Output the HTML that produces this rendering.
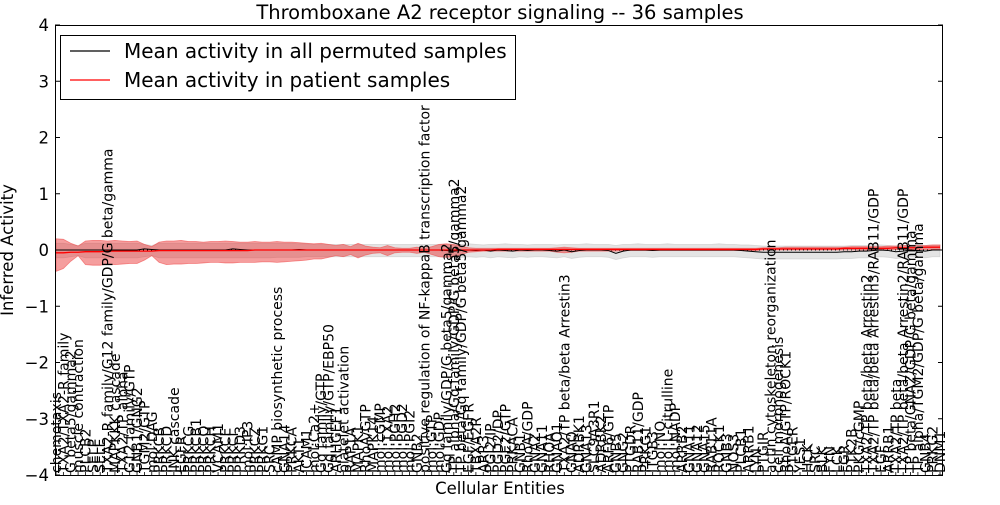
<!DOCTYPE html>
<html><head><meta charset="utf-8"><style>
html,body{margin:0;padding:0;background:#fff;}
svg text{font-family:"DejaVu Sans","Liberation Sans",sans-serif;}
</style></head><body>
<svg id="chart" width="1000" height="500" xmlns="http://www.w3.org/2000/svg">
<rect x="0" y="0" width="1000" height="500" fill="#fff"/>
<g id="plot"></g>
<text x="500" y="19" text-anchor="middle" font-size="19.5">Thromboxane A2 receptor signaling -- 36 samples</text>
<text x="500" y="494" text-anchor="middle" font-size="16.5">Cellular Entities</text>
<text transform="translate(13,250) rotate(-90)" text-anchor="middle" font-size="16.5">Inferred Activity</text>
<g>
<rect x="60.5" y="35.5" width="455" height="64" fill="#fff" stroke="#000" stroke-width="1"/>
<line x1="70" y1="51" x2="110" y2="51" stroke="#000" stroke-width="1.2"/>
<text x="124" y="58" font-size="20">Mean activity in all permuted samples</text>
<line x1="70" y1="80" x2="110" y2="80" stroke="#f00" stroke-width="1.2"/>
<text x="124" y="87" font-size="20">Mean activity in patient samples</text>
</g>
</svg>
<script>
const labels = ["chemotaxis","TXA2/TXA2-R family","G beta5/gamma2","muscle contraction","PLCB2","SELP","SELE","TXA2-R family/G12 family/GDP/G beta/gamma","MAPKKK cascade","TXA2/TP alpha","G12 family/GTP",
"GNB1/GNG2","TGM2/GTP","mol:DAG","PRKCB","PRKCD","JNK cascade","EGFR","PRKCG","PRKCB1","PRKCQ","PRKCH",
"VCAM1","PRKCE","PRKCI","PRKD3","mol:IP3","PRKCZ","PRKG1","SRC","cAMP biosynthetic process","GNA14","PRKCA",
"AKT1","ICAM1","mol:Ca2+","Gq family/GTP","Gq family/GTP/EBP50","ARHGEF1","platelet activation","RAP1A","MAPK1","RhoA/GTP","MAPK14",
"mol:cGMP","mol:TXA2","mol:PGH2","mol:PGD2","mol:PGI2","GNB2","positive regulation of NF-kappaB transcription factor activity","mol:GTP","mol:GDP","Gq family/GDP/G beta5/gamma2","TP alpha/Gq family/GDP/G beta5/gamma2",
"TP beta/Gq family/GDP/G beta5/gamma2","EGF/EGFR","TBXA2R","ARR3","PGI2/IP","PGD2/DP","PGE2/GTP","PRKACA","GNB1","RhoA/GDP","GNAZ",
"GNA11","RHOA","GNAO1","TXA2/TP beta/beta Arrestin3","GNAQ","ADRBK1","GNA13","SLC9A3R1","ADRBK2","ARF6/GTP","GNB5",
"GNG2","PTGDR","RAB11/GDP","PRKG1","ITGB3","mol:NO","mol:L-citrulline","mol:NADP","ARRB2","GNA11","GNA12",
"GNA15","RAB11A","ROCK1","GNB3","NOS3","PLCB1","ARRB1","LYN","PTGIR","actin cytoskeleton reorganization","cell morphogenesis",
"RhoA/GTP/ROCK1","PTGER","YES1","HCK","SRC","BLK","FYN","LCK","FGR","PTK2B","PKG/cGMP",
"TXA2/TP beta/beta Arrestin2","TXA2/TP beta/beta Arrestin3/RAB11/GDP","EGF","ARRB1","TXA2/TP beta","TXA2/TP beta/beta Arrestin2/RAB11/GDP","TP beta/GNAZ/GDP/G beta/gamma","TP alpha/TGM2/GDP/G beta/gamma","GNB4","PRKG2","DNM1"];
const yTicks = [-4,-3,-2,-1,0,1,2,3,4];
const permMean = [0,0,0,0,0,0,0,0,0,0,0, 0,.02,.01,0,0,0,0,0,0,0,0, 0,0,.02,.01,0,0,0,0,0,0,0, .01,0,0,0,0,0,0,0,0,0,0,
0,0,0,0,0,0,0,0,0,-.01,-.02, -.01,0,-.01,0,-.02,0,-.01,-.02,0,-.01,0, 0,-.01,-.02,0,-.03,-.01,0,0,0,-.01,-.06,
-.02,0,0,0,-.01,0,0,0,0,0,0, 0,0,0,0,0,-.01,-.02,-.03,-.04,-.04,-.04, -.04,-.04,-.04,-.04,-.04,-.04,-.04,-.04,-.03,-.03,-.02, -.02,-.01,0,-.01,-.03,-.02,0,-.01,-.02,0,0];
const permHi = [.12,.12,.1,.08,.12,.12,.12,.12,.12,.12,.12, .12,.1,.08,.12,.12,.12,.12,.12,.12,.12,.12, .12,.12,.12,.12,.12,.12,.12,.12,.12,.12,.12, .11,.11,.1,.1,.1,.1,.1,.1,.1,.1,.1,
.1,.1,.1,.1,.1,.1,.1,.1,.1,.1,.09, .1,.11,.1,.09,.1,.1,.11,.1,.1,.09,.1, .1,.1,.09,.1,.1,.1,.11,.1,.1,.1,.08,
.1,.1,.11,.1,.1,.1,.11,.1,.1,.1,.1, .1,.1,.11,.1,.1,.09,.09,.08,.07,.07,.07, .07,.07,.07,.07,.07,.07,.07,.07,.07,.08,.08, .08,.09,.09,.08,.07,.08,.09,.09,.08,.09,.09];
const permLo = [-.14,-.14,-.12,-.1,-.14,-.14,-.14,-.14,-.14,-.14,-.14, -.14,-.12,-.1,-.14,-.14,-.14,-.14,-.14,-.14,-.14,-.14, -.14,-.14,-.14,-.14,-.14,-.14,-.14,-.14,-.13,-.13,-.13, -.13,-.12,-.12,-.12,-.12,-.12,-.12,-.12,-.12,-.12,-.12,
-.12,-.12,-.12,-.12,-.12,-.12,-.12,-.12,-.12,-.13,-.14, -.13,-.12,-.13,-.12,-.14,-.12,-.13,-.14,-.12,-.13,-.12, -.12,-.13,-.14,-.12,-.15,-.13,-.12,-.12,-.12,-.13,-.17,
-.14,-.12,-.12,-.12,-.13,-.12,-.12,-.12,-.12,-.12,-.12, -.12,-.12,-.12,-.12,-.12,-.13,-.14,-.15,-.16,-.16,-.16, -.16,-.16,-.16,-.16,-.16,-.16,-.16,-.16,-.15,-.15,-.14, -.14,-.13,-.12,-.13,-.15,-.14,-.12,-.13,-.14,-.12,-.12];
const patMean = [-.05,-.05,-.04,-.04,-.03,-.03,-.03,-.02,-.02,-.02,-.02, -.02,-.02,-.02,-.01,-.01,-.01,-.01,-.01,-.01,-.01,-.01, -.01,-.01,-.01,-.01,-.01,0,0,0,0,0,0, 0,0,0,0,0,0,0,0,0,0,0,
0,0,0,0,0,0,0,0,0,0,0, 0,0,0,0,0,.01,.01,.01,.01,.01,.01, .01,.01,.01,.01,.01,.01,.01,.01,.01,.01,.01,
.01,.01,.01,.01,.01,.01,.01,.01,.01,.01,.01, .01,.01,.01,.01,.01,.01,.01,.01,.02,.02,.02, .02,.02,.02,.02,.02,.02,.02,.02,.03,.03,.03, .03,.03,.03,.03,.04,.04,.04,.04,.05,.05,.05];
const patHi = [.2,.19,.12,.07,.16,.17,.17,.16,.17,.16,.15, .16,.1,.06,.14,.16,.16,.17,.15,.15,.14,.15, .15,.16,.15,.14,.14,.15,.14,.14,.15,.14,.14, .13,.12,.11,.12,.1,.08,.1,.06,.12,.07,.05,
.04,.08,.04,.03,.03,.05,.03,.06,.1,.11,.1, .07,.04,.03,.03,.03,.03,.03,.03,.03,.03,.03, .03,.03,.04,.05,.04,.03,.03,.03,.03,.03,.03,
.03,.03,.03,.03,.03,.03,.03,.03,.03,.03,.03, .03,.03,.03,.03,.03,.03,.03,.03,.04,.04,.04, .05,.05,.05,.05,.05,.05,.05,.05,.05,.06,.06, .06,.06,.06,.07,.07,.08,.08,.08,.08,.09,.09];
const patLo = [-.38,-.33,-.2,-.1,-.26,-.27,-.27,-.25,-.26,-.25,-.24, -.24,-.18,-.1,-.22,-.26,-.25,-.25,-.24,-.24,-.23,-.22, -.22,-.23,-.23,-.22,-.22,-.22,-.21,-.21,-.22,-.21,-.2, -.19,-.18,-.16,-.16,-.13,-.1,-.12,-.08,-.14,-.09,-.06,
-.05,-.1,-.05,-.04,-.04,-.06,-.04,-.08,-.12,-.13,-.12, -.08,-.04,-.03,-.02,-.02,-.02,-.02,-.02,-.02,-.02,-.02, -.02,-.02,-.04,-.05,-.04,-.02,-.02,-.02,-.02,-.02,-.02,
-.01,-.01,-.01,-.01,-.01,-.01,-.01,-.01,-.01,-.01,-.01, -.01,-.01,-.01,-.01,-.01,-.01,-.01,-.01,0,0,0, 0,0,0,0,0,0,0,0,0,0,0, 0,0,.01,.01,.01,.01,.01,.01,.01,.01,.01];

const NS = "http://www.w3.org/2000/svg";
const L = 55, R = 943, T = 25, B = 475;
const n = labels.length;
function xs(i){ return L + 1 + i * (940 - L - 1) / (n - 1); }
function ys(v){ return T + (4 - v) * (B - T) / 8; }
const plot = document.getElementById('plot');
function mk(tag, attrs){ const e = document.createElementNS(NS, tag); for (const k in attrs) e.setAttribute(k, attrs[k]); plot.appendChild(e); return e; }
function band(hi, lo){ let d = ''; for (let i=0;i<n;i++) d += (i?'L':'M') + xs(i).toFixed(2) + ',' + ys(hi[i]).toFixed(2); for (let i=n-1;i>=0;i--) d += 'L' + xs(i).toFixed(2) + ',' + ys(lo[i]).toFixed(2); return d + 'Z'; }
function line(m){ let d=''; for (let i=0;i<n;i++) d += (i?'L':'M') + xs(i).toFixed(2) + ',' + ys(m[i]).toFixed(2); return d; }

const g1 = mk('path', {d: band(permHi, permLo), fill: '#bbbbbb', 'fill-opacity': '0.4', stroke: '#bbbbbb', 'stroke-opacity': '0.5', 'stroke-width': '0.8'});


const g2 = mk('path', {d: band(patHi, patLo), fill: '#e82828', 'fill-opacity': '0.45', stroke: '#f04848', 'stroke-opacity': '0.6', 'stroke-width': '0.8'});


const z = mk('line', {x1: L, x2: R, y1: ys(0), y2: ys(0), stroke: '#000', 'stroke-width': '1', 'stroke-dasharray': '1,3'});


const l1 = mk('path', {d: line(permMean), fill: 'none', stroke: '#000', 'stroke-width': '1'});


const l2 = mk('path', {d: line(patMean), fill: 'none', stroke: '#f00', 'stroke-width': '1.3'});



for (let i=0;i<n;i++){
  const t = mk('text', {transform: 'translate(' + (xs(i)+5).toFixed(2) + ',473) rotate(-90)', 'font-size': '14'});
  t.textContent = labels[i];
  
  
  const tk = mk('line', {x1: xs(i), x2: xs(i), y1: B, y2: B-3, stroke: '#000', 'stroke-width': '0.8'});
  
  
}
yTicks.forEach(v => {
  const y = ys(v);
  const a = mk('line', {x1: L, x2: L+5, y1: y, y2: y, stroke: '#000', 'stroke-width': '1'});
  
  
  const b = mk('line', {x1: R-5, x2: R, y1: y, y2: y, stroke: '#000', 'stroke-width': '1'});
  
  
  const t = mk('text', {x: L-6, y: y+6, 'text-anchor': 'end', 'font-size': '16.5'});
  t.textContent = (v < 0 ? '\u2212' + (-v) : String(v));
  
  
});
const frame = mk('rect', {x: L+0.5, y: T+0.5, width: R-L-1, height: B-T, fill: 'none', stroke: '#000', 'stroke-width': '1'});


</script>
</body></html>
